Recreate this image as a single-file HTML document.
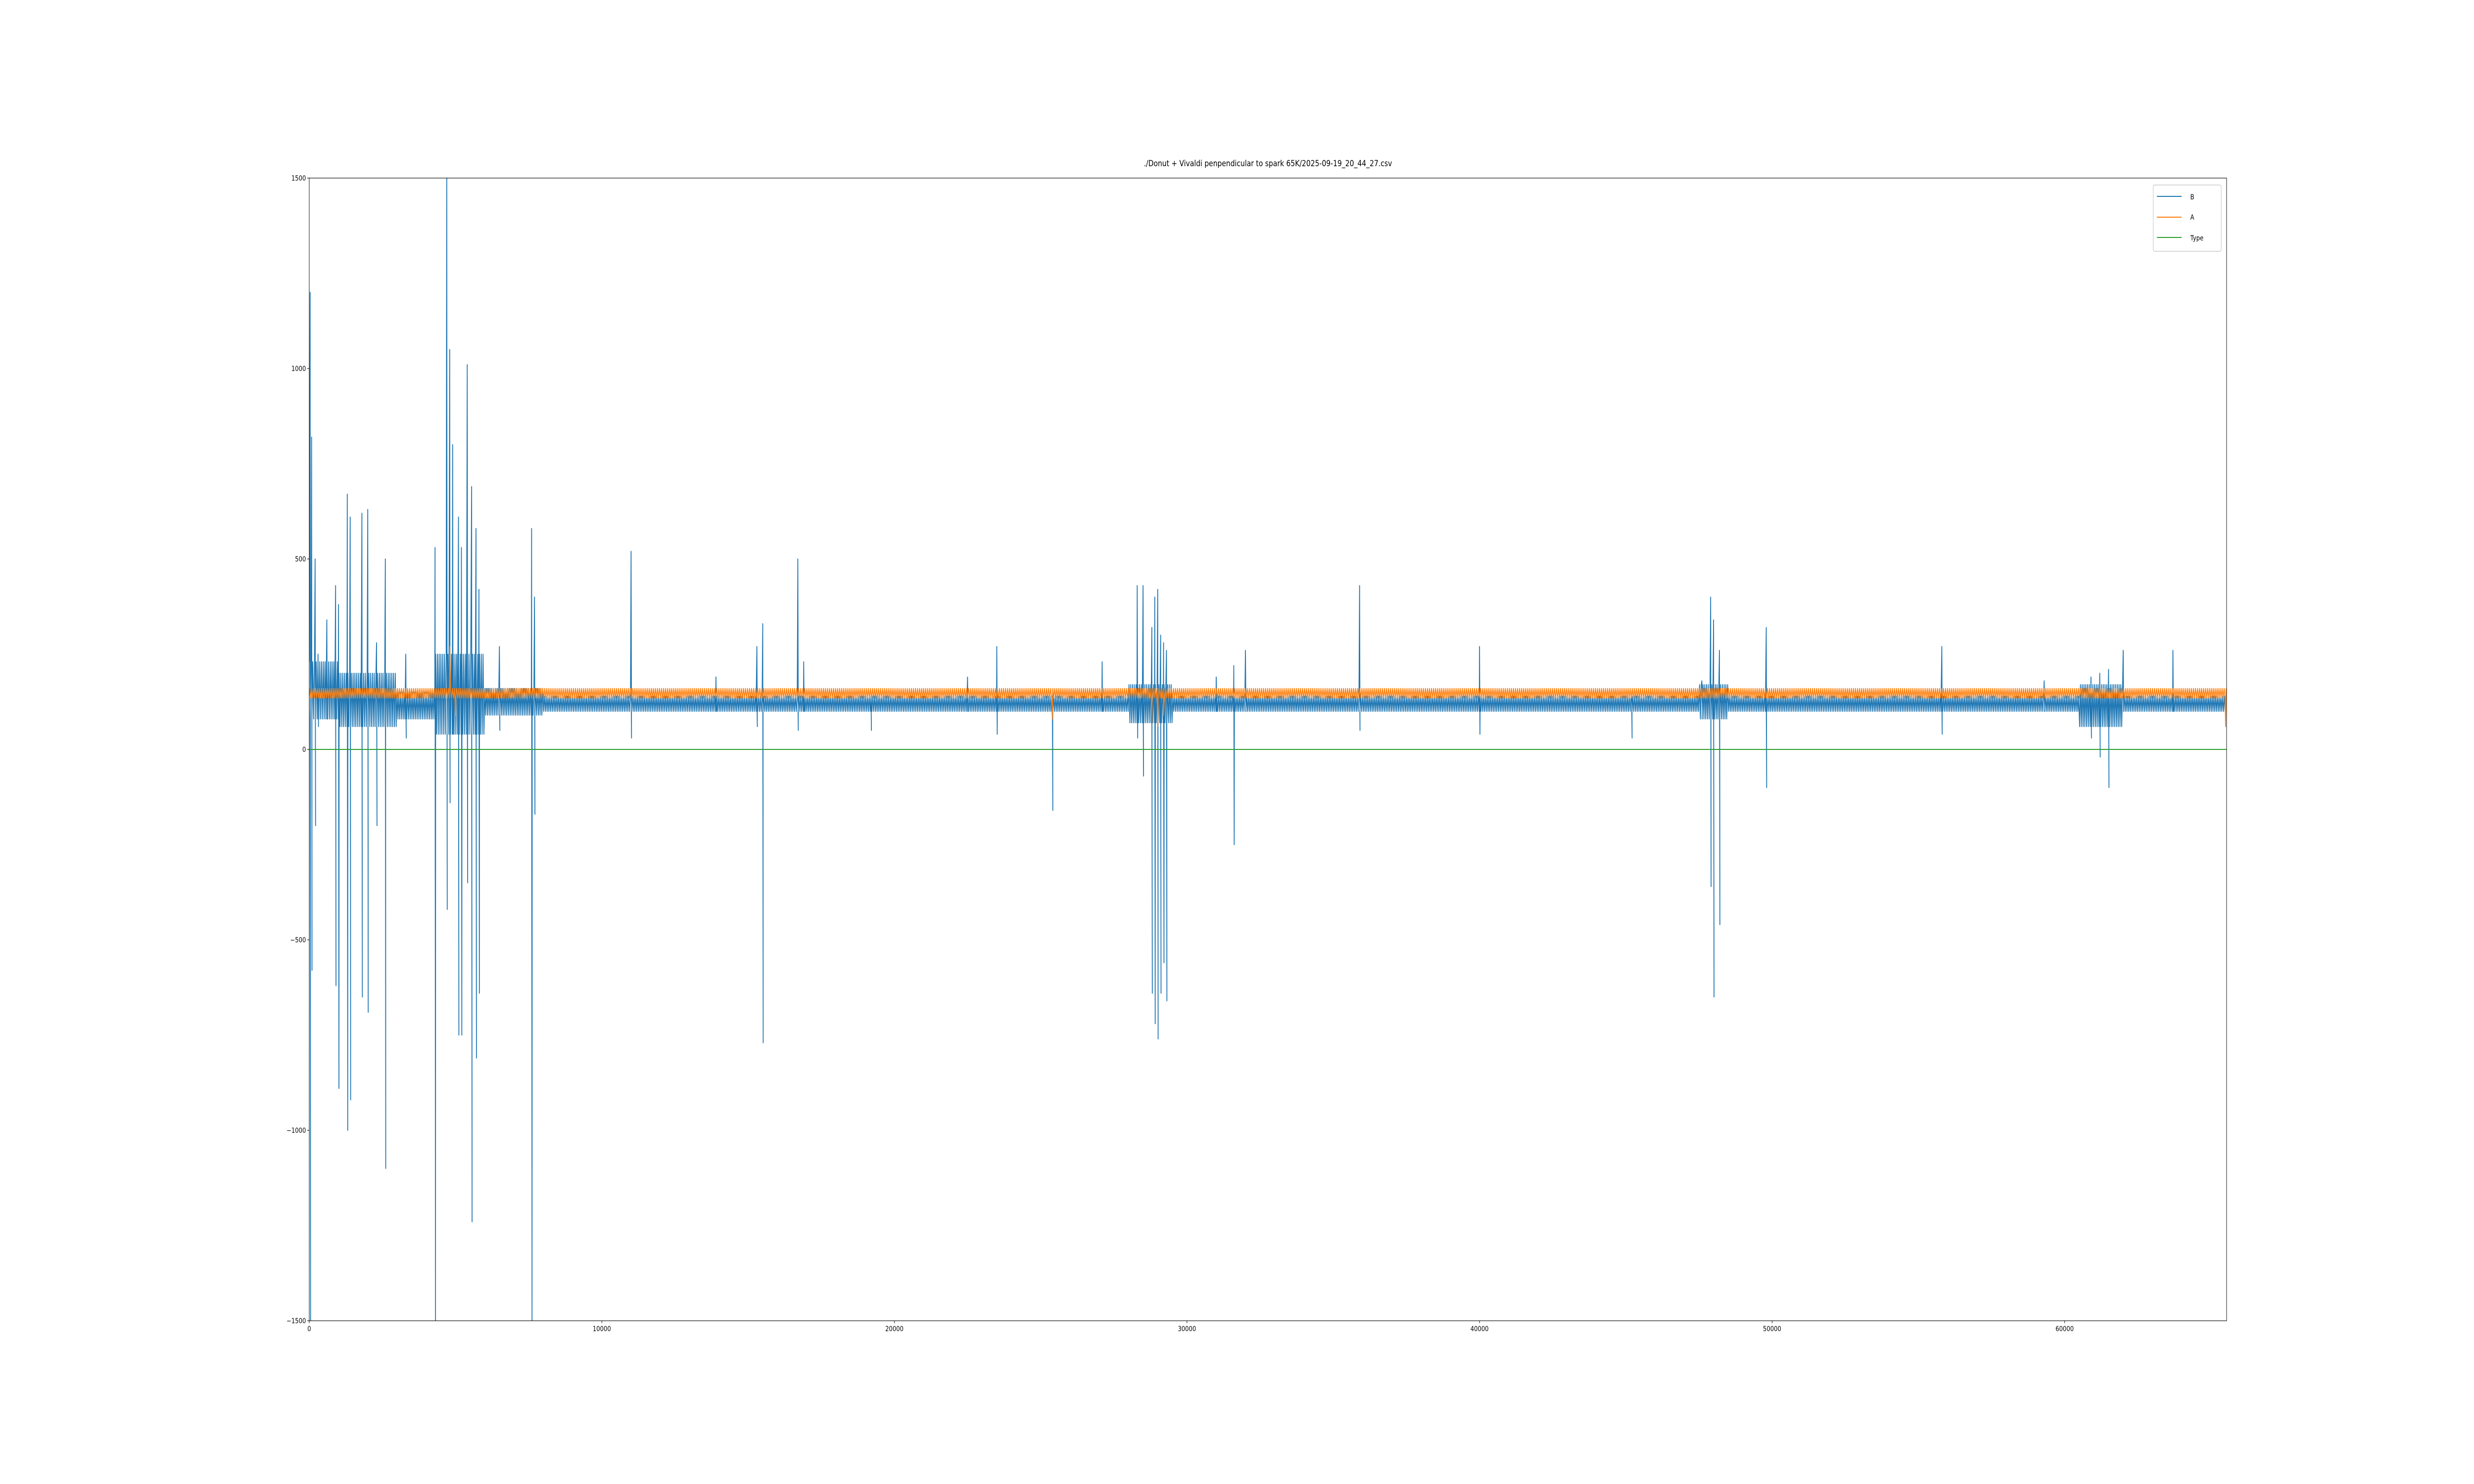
<!DOCTYPE html>
<html><head><meta charset="utf-8"><style>
html,body{margin:0;padding:0;background:#fff;overflow:hidden}
svg{display:block;width:100vw;height:100vh;font-family:"DejaVu Sans","Liberation Sans",sans-serif}
</style></head><body>
<svg id="chart" viewBox="0 0 6000 3000" preserveAspectRatio="none" xmlns="http://www.w3.org/2000/svg">
<rect width="6000" height="3000" fill="#fff"/>
<text x="3075" y="336" text-anchor="middle" font-size="16.7">./Donut + Vivaldi penpendicular to spark 65K/2025-09-19_20_44_27.csv</text>
<g id="plot"></g>
<g id="axes"></g>
<g>
<rect x="5222" y="374" width="165" height="134" rx="4" fill="#fff" fill-opacity="0.8" stroke="#ccc" stroke-width="1.4"/>
<line x1="5231" y1="397" x2="5291" y2="397" stroke="#1f77b4" stroke-width="2.1"/>
<text x="5312" y="403" font-size="13.9">B</text>
<line x1="5231" y1="439" x2="5291" y2="439" stroke="#ff7f0e" stroke-width="2.1"/>
<text x="5312" y="444" font-size="13.9">A</text>
<line x1="5231" y1="480" x2="5291" y2="480" stroke="#2ca02c" stroke-width="2.1"/>
<text x="5312" y="486" font-size="13.9">Type</text>
</g>
</svg>
<script>
const xTicks=[0,10000,20000,30000,40000,50000,60000];
const yTicks=[-1500,-1000,-500,0,500,1000,1500];
const xMax=65535;
// blue band segments: start x, low, high
const bandX=[0,1000,3000,4300,6000,8000,14000,28000,29500,47500,48500,60500,62000];
const bandLow=[80,60,80,40,90,100,100,70,100,80,100,60,100];
const bandHigh=[230,200,150,250,160,140,140,170,140,170,140,170,140];
// B spikes: x, up value, down value
const spikeX=[30,80,200,300,600,900,1000,1300,1400,1800,2000,2300,2600,3300,4300,4700,4800,4900,5100,5200,5400,5550,5700,5800,6500,7600,7700,11000,13900,15300,15500,16700,16900,19200,22500,23500,25400,27100,28300,28500,28800,28900,29000,29100,29200,29300,31000,31600,32000,35900,40000,45200,47600,47900,48000,48200,49800,55800,59300,60900,61200,61500,62000,63700];
const spikeUp=[1200,820,500,250,340,430,380,670,610,620,630,280,500,250,530,1500,1050,800,610,530,1010,690,580,420,270,580,400,520,190,270,330,500,230,140,190,270,140,230,430,430,320,400,420,300,280,260,190,220,260,430,270,140,180,400,340,260,320,270,180,190,200,210,260,260];
const spikeDown=[-1500,-580,-200,60,80,-620,-890,-1000,-920,-650,-690,-200,-1100,30,-1500,-420,-140,40,-750,-750,-350,-1240,-810,-640,50,-1500,-170,30,100,60,-770,50,100,50,100,40,-160,100,30,-70,-640,-720,-760,-640,-560,-660,100,-250,100,50,40,30,100,-360,-650,-460,-100,40,100,30,-20,-100,100,100];
// orange series band and dips
const aLow=135, aHigh=160;
const aSpikeX=[4800,5000,25400,28800,29000,29200,65500];
const aSpikeVal=[270,90,80,70,60,90,60];
const typeVal=0;

const L=750,R=5400,T=360,B=2670;
const sx=v=>L+(v/xMax)*(R-L);
const sy=v=>B-(v+1500)/3000*(B-T);
const NS="http://www.w3.org/2000/svg";
const plot=document.getElementById('plot'), axes=document.getElementById('axes');
function mk(tag,attrs,parent){const e=document.createElementNS(NS,tag);for(const k in attrs)e.setAttribute(k,attrs[k]);parent.appendChild(e);return e;}
const cp=mk('clipPath',{id:'clip'},plot);mk('rect',{x:L,y:T,width:R-L,height:B-T},cp);

function bandAt(x){let i=0;for(let k=0;k<bandX.length;k++)if(x>=bandX[k])i=k;return [bandLow[i],bandHigh[i]];}
let pts=[];let si=0,k=0;
for(let x=0;x<=xMax;x+=30,k++){
  while(si<spikeX.length&&spikeX[si]<=x){pts.push([spikeX[si],spikeUp[si]]);pts.push([spikeX[si]+15,spikeDown[si]]);si++;}
  const b=bandAt(x);pts.push([x,k%2?b[0]:b[1]]);
}
let bl=mk('polyline',{points:pts.map(p=>sx(p[0]).toFixed(1)+','+sy(p[1]).toFixed(1)).join(' '),fill:'none',stroke:'#1f77b4','stroke-width':2.1,'stroke-linejoin':'round','clip-path':'url(#clip)'},plot);


pts=[];si=0;k=0;
for(let x=0;x<=xMax;x+=35,k++){
  while(si<aSpikeX.length&&aSpikeX[si]<=x){pts.push([aSpikeX[si],aSpikeVal[si]]);si++;}
  pts.push([x,k%2?aLow:aHigh]);
}
let al=mk('polyline',{points:pts.map(p=>sx(p[0]).toFixed(1)+','+sy(p[1]).toFixed(1)).join(' '),fill:'none',stroke:'#ff7f0e','stroke-width':2.1,'stroke-linejoin':'round','clip-path':'url(#clip)'},plot);


let tl=mk('line',{x1:sx(0),x2:sx(xMax),y1:sy(typeVal),y2:sy(typeVal),stroke:'#2ca02c','stroke-width':2.1},plot);


let fr=mk('rect',{x:L,y:T,width:R-L,height:B-T,fill:'none',stroke:'#000','stroke-width':1.1},axes);


xTicks.forEach(v=>{
  const x=sx(v);
  let t=mk('line',{x1:x,x2:x,y1:B,y2:B+4.9,stroke:'#000','stroke-width':1.1},axes);
  
  
  let s=mk('text',{x:x,y:B+21,'text-anchor':'middle','font-size':13.9},axes);s.textContent=v;
  
  
});
yTicks.forEach(v=>{
  const y=sy(v);
  let t=mk('line',{x1:L-4.9,x2:L,y1:y,y2:y,stroke:'#000','stroke-width':1.1},axes);
  
  
  let s=mk('text',{x:L-8,y:y+5,'text-anchor':'end','font-size':13.9},axes);s.textContent=v<0?'\u2212'+(-v):v;
  
  
});
</script>
</body></html>
